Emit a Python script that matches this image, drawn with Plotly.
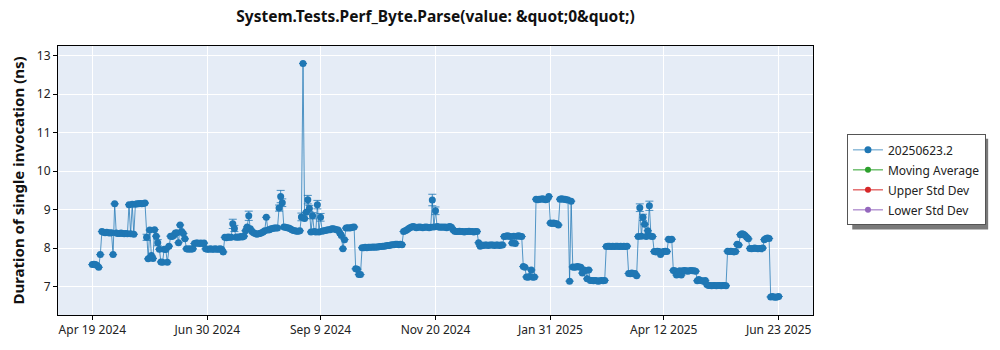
import pandas as pd
import plotly.graph_objects as go

# Daily benchmark results, one value per day starting 2024-04-19 (ns)
start_date = "2024-04-19"
duration_ns = [
    # Apr 19 - May 18 2024
    7.57, 7.58, 7.57, 7.55, 7.50, 7.83, 8.43, 8.41, 8.40, 8.41,
    8.40, 8.39, 8.40, 7.83, 9.15, 8.39, 8.38, 8.38, 8.39, 8.38,
    8.37, 8.38, 8.37, 9.13, 8.37, 9.14, 8.36, 9.14, 9.15, 9.15,
    # May 19 - Jun 17
    9.16, 9.15, 9.16, 9.17, 8.28, 7.72, 8.47, 7.81, 7.73, 8.48,
    8.31, 8.14, 7.97, 7.64, 7.63, 7.97, 7.96, 7.63, 8.05, 8.31,
    8.30, 8.33, 8.39, 8.40, 8.14, 8.60, 8.43, 8.38, 8.24, 7.98,
    # Jun 18 - Jul 17
    7.97, 7.98, 7.97, 7.98, 8.12, 8.13, 8.13, 8.12, 8.13, 8.12,
    8.13, 7.98, 7.97, 7.97, 7.98, 7.97, 7.97, 7.98, 7.97, 7.97,
    7.98, 7.97, 7.90, 8.28, 8.27, 8.29, 8.28, 8.28, 8.63, 8.51,
    # Jul 18 - Aug 16
    8.28, 8.29, 8.28, 8.30, 8.29, 8.31, 8.45, 8.55, 8.84, 8.50,
    8.43, 8.40, 8.38, 8.36, 8.37, 8.38, 8.40, 8.42, 8.45, 8.80,
    8.47, 8.48, 8.50, 8.51, 8.52, 8.52, 8.52, 9.04, 9.34, 9.18,
    # Aug 17 - Sep 15
    8.55, 8.54, 8.53, 8.52, 8.50, 8.48, 8.46, 8.45, 8.44, 8.44,
    8.45, 8.81, 12.80, 8.77, 8.93, 9.26, 9.03, 8.42, 8.84, 8.43,
    8.42, 9.13, 8.42, 8.80, 8.44, 8.45, 8.46, 8.47, 8.48, 8.48,
    # Sep 16 - Oct 15
    8.50, 8.50, 8.49, 8.48, 8.47, 8.40, 8.33, 7.98, 8.22, 8.52,
    8.53, 8.52, 8.53, 8.54, 8.55, 7.46, 7.45, 7.31, 7.31, 8.01,
    8.01, 8.02, 8.01, 8.02, 8.02, 8.02, 8.03, 8.02, 8.03, 8.03,
    # Oct 16 - Nov 14
    8.04, 8.04, 8.05, 8.05, 8.06, 8.07, 8.07, 8.08, 8.09, 8.09,
    8.10, 8.10, 8.09, 8.10, 8.09, 8.43, 8.45, 8.47, 8.50, 8.53,
    8.55, 8.56, 8.55, 8.53, 8.54, 8.55, 8.54, 8.53, 8.54, 8.55,
    # Nov 15 - Dec 14
    8.54, 8.53, 8.54, 9.25, 8.55, 8.97, 8.56, 8.55, 8.54, 8.55,
    8.54, 8.55, 8.53, 8.55, 8.56, 8.54, 8.48, 8.44, 8.43, 8.43,
    8.44, 8.43, 8.43, 8.42, 8.43, 8.43, 8.44, 8.43, 8.43, 8.42,
    # Dec 15 2024 - Jan 13 2025
    8.43, 8.43, 8.14, 8.05, 8.08, 8.07, 8.08, 8.08, 8.07, 8.08,
    8.08, 8.08, 8.07, 8.08, 8.08, 8.07, 8.08, 8.08, 8.30, 8.31,
    8.32, 8.31, 8.30, 8.13, 8.31, 8.12, 8.31, 8.32, 8.31, 8.30,
    # Jan 14 - Feb 12
    7.52, 7.50, 7.25, 7.24, 7.26, 7.43, 7.24, 7.25, 9.27, 9.26,
    9.27, 9.27, 9.28, 9.27, 9.26, 9.27, 9.34, 8.65, 8.64, 8.65,
    8.64, 8.63, 8.60, 9.27, 9.28, 9.27, 9.27, 9.26, 9.25, 7.14,
    # Feb 13 - Mar 14
    9.22, 7.51, 7.50, 7.51, 7.52, 7.51, 7.50, 7.35, 7.43, 7.42,
    7.20, 7.43, 7.16, 7.16, 7.15, 7.16, 7.15, 7.14, 7.15, 7.16,
    7.15, 7.16, 8.04, 8.05, 8.05, 8.04, 8.05, 8.04, 8.05, 8.05,
    # Mar 15 - Apr 13
    8.04, 8.05, 8.04, 8.05, 8.04, 8.05, 7.34, 7.33, 7.35, 7.33,
    7.34, 7.28, 8.30, 9.05, 8.31, 8.80, 8.62, 8.30, 8.45, 9.10,
    8.31, 8.30, 7.91, 7.90, 7.92, 7.91, 7.83, 7.90, 7.91, 7.92,
    # Apr 14 - May 13
    7.91, 8.23, 8.22, 8.23, 7.42, 7.41, 7.30, 7.31, 7.41, 7.30,
    7.41, 7.42, 7.41, 7.40, 7.41, 7.42, 7.41, 7.41, 7.40, 7.15,
    7.18, 7.16, 7.15, 7.14, 7.16, 7.05, 7.03, 7.03, 7.02, 7.03,
    # May 14 - Jun 12
    7.03, 7.02, 7.03, 7.03, 7.02, 7.03, 7.03, 7.02, 7.92, 7.91,
    7.92, 7.91, 7.90, 7.91, 8.10, 8.08, 8.35, 8.37, 8.36, 8.33,
    8.28, 8.24, 7.99, 7.98, 7.99, 8.00, 7.99, 7.98, 7.99, 7.98,
    # Jun 13 - Jun 23
    8.00, 8.22, 8.25, 8.26, 8.25, 6.73, 6.74, 6.73, 6.72, 6.73,
    6.74,
]

# Days whose runs carried a visible spread (date, +/- ns)
spread_dates = [
    "2024-05-23", "2024-05-30", "2024-07-16", "2024-07-17", "2024-07-26",
    "2024-08-14", "2024-08-15", "2024-08-16", "2024-08-28", "2024-09-01",
    "2024-09-02", "2024-09-04", "2024-09-07", "2024-09-09", "2024-11-18",
    "2024-11-20", "2025-03-28", "2025-03-30", "2025-04-03",
]
spread_ns = [
    0.08, 0.08, 0.12, 0.08, 0.12,
    0.08, 0.16, 0.10, 0.10, 0.11,
    0.08, 0.08, 0.11, 0.10, 0.15,
    0.10, 0.10, 0.08, 0.12,
]

x_tick_dates = ["2024-04-19", "2024-06-30", "2024-09-09", "2024-11-20",
                "2025-01-31", "2025-04-12", "2025-06-23"]
x_tick_labels = ["Apr 19 2024", "Jun 30 2024", "Sep 9 2024", "Nov 20 2024",
                 "Jan 31 2025", "Apr 12 2025", "Jun 23 2025"]

series_name = "20250623.2"
aux_series = ["Moving Average", "Upper Std Dev", "Lower Std Dev"]
aux_colors = ["#2ca02c", "#d62728", "#9467bd"]

dates = pd.date_range(start_date, periods=len(duration_ns), freq="D")
spread_lookup = dict(zip(pd.to_datetime(spread_dates), spread_ns))
spread = [spread_lookup.get(d, None) for d in dates]

BLUE = "#1f77b4"
FONT = "Noto Sans"

fig = go.Figure()
fig.add_trace(go.Scatter(
    x=dates, y=duration_ns, name=series_name, mode="lines+markers",
    line=dict(color="rgba(31,119,180,0.75)", width=1),
    marker=dict(color=BLUE, size=7),
    error_y=dict(type="data", array=spread, visible=True,
                 color="rgba(31,119,180,0.8)", thickness=1, width=4),
    legendgroup="g0",
))
for i, (nm, col) in enumerate(zip(aux_series, aux_colors)):
    fig.add_trace(go.Scatter(
        x=[dates[0]], y=[None], name=nm, mode="lines+markers",
        line=dict(color=col, width=1), marker=dict(color=col, size=6),
        legendgroup=f"g{i+1}",
    ))

# Drop shadow drawn behind the legend box (offset right/down)
fig.add_shape(type="rect", xref="paper", yref="paper",
              x0=1.052, x1=1.232, y0=0.318, y1=0.655,
              fillcolor="#7a7a7a", line=dict(width=0), layer="below")

fig.update_layout(
    width=1000, height=350,
    margin=dict(l=58, r=187, t=46, b=30),
    paper_bgcolor="white", plot_bgcolor="#E5ECF6",
    font=dict(family=FONT, size=12, color="#222"),
    title=dict(text="<b>System.Tests.Perf_Byte.Parse(value: &amp;quot;0&amp;quot;)</b>",
               x=0.5, xref="paper", xanchor="center",
               y=0.969, yref="container", yanchor="top",
               font=dict(family=FONT, size=15.5, color="#111")),
    showlegend=True,
    legend=dict(x=1.045, y=0.6715, xanchor="left", yanchor="top",
                bgcolor="white", bordercolor="#555", borderwidth=1,
                font=dict(family=FONT, size=12, color="#222"),
                tracegroupgap=1),
)
fig.update_xaxes(
    range=["2024-03-28 12:00", "2025-07-14 12:00"],
    tickvals=pd.to_datetime(x_tick_dates), ticktext=x_tick_labels,
    showgrid=True, gridcolor="white", gridwidth=1,
    showline=True, linecolor="black", linewidth=1, mirror=True,
    ticks="outside", ticklen=4, tickcolor="black",
    zeroline=False,
)
fig.update_yaxes(
    range=[6.26, 13.255], dtick=1,
    title=dict(text="<b>Duration of single invocation (ns)</b>",
               font=dict(family=FONT, size=15, color="#111"), standoff=8),
    showgrid=True, gridcolor="white", gridwidth=1,
    showline=True, linecolor="black", linewidth=1, mirror=True,
    ticks="outside", ticklen=4, tickcolor="black",
    zeroline=False,
)

fig.write_html("out.html")
